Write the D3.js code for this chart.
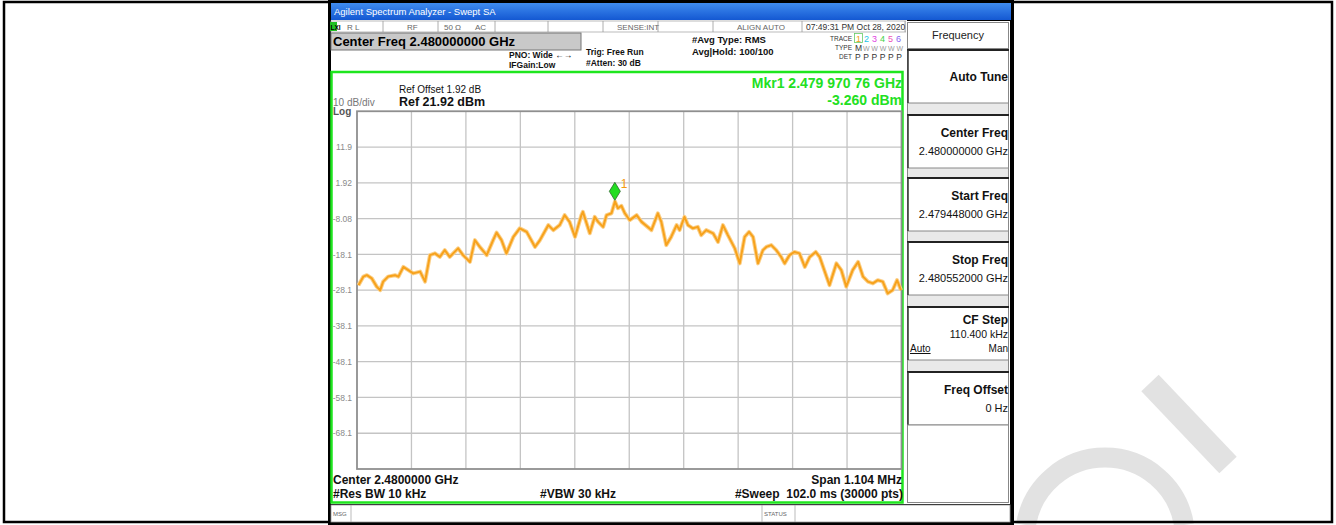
<!DOCTYPE html>
<html><head><meta charset="utf-8">
<script src="https://cdn.jsdelivr.net/npm/d3@7"></script>
<style>body{margin:0;background:#fff}svg{display:block;font-family:"Liberation Sans",Arial,sans-serif}</style>
</head><body><svg id="c" width="1336" height="525"></svg>
<script>
// ---- data ----
const freqOffsetKHz = [-549,-539,-532,-522,-512,-505,-499,-489,-475,-468,
  -458,-448,-438,-424,-414,-404,-394,-384,-374,-364,
  -354,-347,-337,-323,-313,-303,-289,-276,-269,-259,
  -249,-235,-222,-208,-191,-181,-164,-154,-141,-131,
  -121,-110,-97,-94,-80,-70,-63,-53,-46,-36,
  -29,-23,-16,-9,1,15,25,45,58,65,
  75,85,96,102,112,119,129,139,146,156,
  170,180,190,200,214,224,234,243,251,261,
  271,278,288,298,308,315,325,335,345,356,
  366,378,386,406,420,430,440,453,464,474,
  484,494,504,514,524,534,543,551];
const levelDbm = [-26.7,-24.3,-23.9,-24.8,-27.1,-28.1,-25.7,-24.3,-23.9,-24.3,
  -21.6,-22.5,-23.4,-22.9,-25.7,-18.3,-17.8,-18.8,-16.9,-18.8,
  -17.4,-16.4,-18.3,-20.2,-14.1,-16.0,-18.3,-14.1,-12.0,-14.1,
  -17.8,-13.2,-10.8,-11.8,-16.0,-14.1,-9.9,-11.3,-9.9,-7.1,
  -9.0,-13.2,-7.1,-6.2,-12.2,-7.6,-9.0,-10.4,-7.1,-6.6,
  -3.3,-5.2,-4.5,-6.6,-8.5,-7.1,-9.0,-11.3,-6.6,-9.0,
  -15.5,-13.2,-9.9,-11.3,-7.6,-9.9,-10.8,-10.4,-12.7,-11.3,
  -12.2,-14.6,-9.9,-12.7,-16.4,-20.6,-13.2,-11.8,-13.2,-20.6,
  -16.9,-16.0,-15.5,-16.9,-18.8,-20.6,-18.3,-17.4,-17.8,-21.6,
  -18.8,-17.4,-18.8,-26.7,-20.6,-22.5,-27.1,-22.5,-20.2,-24.3,
  -25.7,-26.2,-25.3,-25.7,-29.0,-28.1,-25.3,-28.1];
const xGridKHz = [-552,-441.6,-331.2,-220.8,-110.4,0,110.4,220.8,331.2,441.6,552];
const yTickValues = [21.92,11.92,1.92,-8.08,-18.08,-28.08,-38.08,-48.08,-58.08,-68.08,-78.08];
const yTickLabels = ["","11.9","1.92","-8.08","-18.1","-28.1","-38.1","-48.1","-58.1","-68.1",""];
const markerFreqKHz = [-29.24];
const markerLevel = [-3.26];
const softkeyTitles = ["Auto Tune","Center Freq","Start Freq","Stop Freq","CF Step","Freq Offset"];
const softkeyValues = ["","2.480000000 GHz","2.479448000 GHz","2.480552000 GHz","110.400 kHz","0 Hz"];

const svg = d3.select("#c");

// watermark
svg.append("path").attr("d","M1026,525 A80,80 0 0 1 1184,525").attr("fill","none").attr("stroke","#e2e2e2").attr("stroke-width",20);
svg.append("line").attr("x1",1150).attr("y1",383).attr("x2",1228).attr("y2",465).attr("stroke","#e2e2e2").attr("stroke-width",24);

// outer frame
svg.append("rect").attr("x",4).attr("y",2).attr("width",1328).attr("height",520).attr("fill","none").attr("stroke","#000").attr("stroke-width",2.5);

// screenshot background
svg.append("rect").attr("x",328).attr("y",0).attr("width",686).attr("height",525).attr("fill","#000");
const grad = svg.append("defs").append("linearGradient").attr("id","tb").attr("x1",0).attr("y1",0).attr("x2",0).attr("y2",1);
grad.append("stop").attr("offset","0").attr("stop-color","#3f8cf0");
grad.append("stop").attr("offset","1").attr("stop-color","#1458d2");
svg.append("rect").attr("x",331).attr("y",3).attr("width",680).attr("height",17).attr("fill","url(#tb)");
svg.append("text").attr("x",334).attr("y",15).attr("fill","#fff").attr("font-size",9.5).text("Agilent Spectrum Analyzer - Swept SA");

// main white area
svg.append("rect").attr("x",331).attr("y",20).attr("width",576).attr("height",484).attr("fill","#fff");
// status row
svg.append("rect").attr("x",331).attr("y",21).attr("width",575).attr("height",11).attr("fill","#fff").attr("stroke","#aaa").attr("stroke-width",0.8);
[383,438,495,548,603,658,713,802,905].forEach(x=>svg.append("line").attr("x1",x).attr("x2",x).attr("y1",21).attr("y2",32).attr("stroke","#999").attr("stroke-width",0.8));
svg.append("rect").attr("x",330).attr("y",22).attr("width",7).attr("height",9).attr("fill","#22c022");
svg.append("text").attr("x",330.5).attr("y",29.5).attr("font-size",6.5).attr("font-weight","bold").attr("fill","#000").text("LXI");
const st = [[347,"R L"],[407,"RF"],[444,"50 Ω"],[475,"AC"],[617,"SENSE:INT"],[737,"ALIGN AUTO"]];
st.forEach(d=>svg.append("text").attr("x",d[0]).attr("y",30).attr("font-size",8).attr("fill","#666").text(d[1]));
svg.append("text").attr("x",806).attr("y",30).attr("font-size",8.5).attr("fill","#333").text("07:49:31 PM Oct 28, 2020");

// center freq box
svg.append("rect").attr("x",331).attr("y",33).attr("width",250).attr("height",17).attr("fill","#c9c9c9").attr("stroke","#777").attr("stroke-width",1);
svg.append("text").attr("x",333).attr("y",46).attr("font-size",13).attr("font-weight","bold").attr("fill","#000").text("Center Freq 2.480000000 GHz");

const hdr = [[509,58,"PNO: Wide ←→"],[509,68,"IFGain:Low"],[586,55,"Trig: Free Run"],[586,66,"#Atten: 30 dB"],[692,43,"#Avg Type: RMS"],[692,55,"Avg|Hold: 100/100"]];
hdr.forEach(d=>svg.append("text").attr("x",d[0]).attr("y",d[1]).attr("font-size",d[1]>45&&d[0]<600?8.5:9.5).attr("font-weight","bold").attr("fill","#111").text(d[2]));

// trace indicator
[["TRACE",41],["TYPE",50],["DET",59]].forEach(d=>svg.append("text").attr("x",852).attr("y",d[1]).attr("text-anchor","end").attr("font-size",6.5).attr("fill","#333").text(d[0]));
const tcols = ["#f0a020","#22c4e8","#e040e0","#44d044","#f050b8","#8a62f2"];
svg.append("rect").attr("x",854.5).attr("y",33.5).attr("width",8).attr("height",9).attr("fill","none").attr("stroke","#6c6").attr("stroke-width",0.8);
tcols.forEach((c,i)=>svg.append("text").attr("x",856+i*8).attr("y",41.5).attr("font-size",9).attr("fill",c).text(i+1));
svg.append("text").attr("x",855).attr("y",50.5).attr("font-size",8.5).attr("fill","#333").text("M");
svg.append("text").attr("x",863).attr("y",50.5).attr("font-size",7).attr("fill","#999").attr("textLength",40).text("WWWWW");
svg.append("text").attr("x",855).attr("y",59.5).attr("font-size",8.5).attr("fill","#333").attr("textLength",47).text("P P P P P P");

// green frame
svg.append("rect").attr("x",331.5).attr("y",72).attr("width",571).attr("height",430.5).attr("fill","none").attr("stroke","#1ee61e").attr("stroke-width",2.5);

// scales
const x = d3.scaleLinear().domain([-552,552]).range([357,901.5]);
const y = d3.scaleLinear().domain([-78.08,21.92]).range([469,111.25]);

// grid
const g = svg.append("g");
g.selectAll(".vg").data(xGridKHz.slice(1,-1)).join("line").attr("x1",d=>x(d)).attr("x2",d=>x(d)).attr("y1",y(21.92)).attr("y2",y(-78.08)).attr("stroke","#c4c4c4").attr("stroke-width",1.3);
g.selectAll(".hg").data(yTickValues.slice(1,-1)).join("line").attr("x1",x(-552)).attr("x2",x(552)).attr("y1",d=>y(d)).attr("y2",d=>y(d)).attr("stroke","#c4c4c4").attr("stroke-width",1.3);
svg.append("rect").attr("x",x(-552)).attr("y",y(21.92)).attr("width",x(552)-x(-552)).attr("height",y(-78.08)-y(21.92)).attr("fill","none").attr("stroke","#8f8f8f").attr("stroke-width",1.8);

// y axis labels
const ya = svg.append("g").attr("transform",`translate(${x(-552)-2},0)`).call(d3.axisLeft(y).tickValues(yTickValues).tickFormat((d,i)=>yTickLabels[i]).tickSize(0));
ya.select(".domain").remove();
ya.selectAll("text").attr("font-size",8.5).attr("fill","#8a8a8a").attr("font-family","Liberation Sans, Arial, sans-serif");

svg.append("text").attr("x",333).attr("y",106).attr("font-size",10).attr("fill","#777").text("10 dB/div");
svg.append("text").attr("x",333).attr("y",115).attr("font-size",10).attr("fill","#555").attr("font-weight","bold").text("Log");
svg.append("text").attr("x",399).attr("y",93).attr("font-size",10).attr("fill","#111").text("Ref Offset 1.92 dB");
svg.append("text").attr("x",399).attr("y",105.5).attr("font-size",12.5).attr("font-weight","bold").attr("fill","#111").text("Ref 21.92 dBm");
svg.append("text").attr("x",902).attr("y",88).attr("text-anchor","end").attr("font-size",14).attr("font-weight","bold").attr("fill","#22e022").text("Mkr1 2.479 970 76 GHz");
svg.append("text").attr("x",902).attr("y",104.5).attr("text-anchor","end").attr("font-size",14).attr("font-weight","bold").attr("fill","#22e022").text("-3.260 dBm");

// trace
const pts = freqOffsetKHz.map((f,i)=>[f,levelDbm[i]]);
const line = d3.line().x(d=>x(d[0])).y(d=>y(d[1]));
svg.append("path").datum(pts).attr("d",line).attr("fill","none").attr("stroke","#fbd08a").attr("stroke-width",4).attr("stroke-linejoin","round");
svg.append("path").datum(pts).attr("d",line).attr("fill","none").attr("stroke","#f7a21c").attr("stroke-width",2).attr("stroke-linejoin","round");

// marker
const mx = x(markerFreqKHz[0]), my = y(markerLevel[0]);
svg.append("path").attr("d",`M${mx},${my-19} L${mx+5.5},${my-10} L${mx},${my-1} L${mx-5.5},${my-10} Z`).attr("fill","#22dd22").attr("stroke","#2a6a2a").attr("stroke-width",0.8);
svg.append("text").attr("x",mx+6).attr("y",my-13).attr("font-size",12).attr("fill","#f59a10").text("1");

// bottom annotations
const bt = [[333,484,"start","Center 2.4800000 GHz"],[902,484,"end","Span 1.104 MHz"],[333,498,"start","#Res BW 10 kHz"],[540,498,"start","#VBW 30 kHz"],[903,498,"end","#Sweep  102.0 ms (30000 pts)"]];
bt.forEach(d=>svg.append("text").attr("x",d[0]).attr("y",d[1]).attr("text-anchor",d[2]).attr("font-size",12).attr("font-weight","bold").attr("fill","#111").attr("xml:space","preserve").style("white-space","pre").text(d[3]));

// msg bar
svg.append("rect").attr("x",331).attr("y",505).attr("width",679).attr("height",17).attr("fill","#fff").attr("stroke","#999").attr("stroke-width",0.8);
[351,762,795].forEach(xx=>svg.append("line").attr("x1",xx).attr("x2",xx).attr("y1",505).attr("y2",522).attr("stroke","#aaa").attr("stroke-width",0.8));
svg.append("text").attr("x",333).attr("y",516).attr("font-size",6).attr("fill","#666").text("MSG");
svg.append("text").attr("x",764).attr("y",516).attr("font-size",6).attr("fill","#666").text("STATUS");

// right softkey panel
svg.append("rect").attr("x",906).attr("y",21).attr("width",104).attr("height",483).attr("fill","#fff");
svg.append("rect").attr("x",907.5).attr("y",22.5).attr("width",101).attr("height",480).attr("fill","#e9e9e9").attr("stroke","#888").attr("stroke-width",1);
svg.append("rect").attr("x",907.5).attr("y",22.5).attr("width",101).attr("height",26).attr("fill","#fff").attr("stroke","#888").attr("stroke-width",1);
svg.append("text").attr("x",958).attr("y",39).attr("text-anchor","middle").attr("font-size",11).attr("fill","#222").text("Frequency");
const keyTop = [50,115,178,242,307,372];
softkeyTitles.forEach((t,i)=>{
  const ty = keyTop[i];
  svg.append("rect").attr("x",907.5).attr("y",ty).attr("width",101).attr("height",53).attr("fill","#fff").attr("stroke","#888").attr("stroke-width",1);
  svg.append("line").attr("x1",907).attr("x2",1009).attr("y1",ty).attr("y2",ty).attr("stroke","#222").attr("stroke-width",2);
  svg.append("line").attr("x1",908).attr("x2",908).attr("y1",ty).attr("y2",ty+53).attr("stroke","#333").attr("stroke-width",1.5);
  const titleY = i===0 ? ty+31 : (i===4 ? ty+17 : ty+22);
  svg.append("text").attr("x",1008).attr("y",titleY).attr("text-anchor","end").attr("font-size",12).attr("font-weight","bold").attr("fill","#111").text(t);
  if (softkeyValues[i]) svg.append("text").attr("x",1008).attr("y",i===4?ty+31:ty+40).attr("text-anchor","end").attr("font-size",i===4?10.5:11).attr("fill","#111").text(softkeyValues[i]);
});
svg.append("rect").attr("x",907.5).attr("y",425).attr("width",101).attr("height",77.5).attr("fill","#fff").attr("stroke","#888").attr("stroke-width",1);
svg.append("text").attr("x",910).attr("y",352).attr("font-size",10).attr("fill","#111").attr("text-decoration","underline").text("Auto");
svg.append("text").attr("x",1008).attr("y",352).attr("text-anchor","end").attr("font-size",10).attr("fill","#111").text("Man");
</script></body></html>
